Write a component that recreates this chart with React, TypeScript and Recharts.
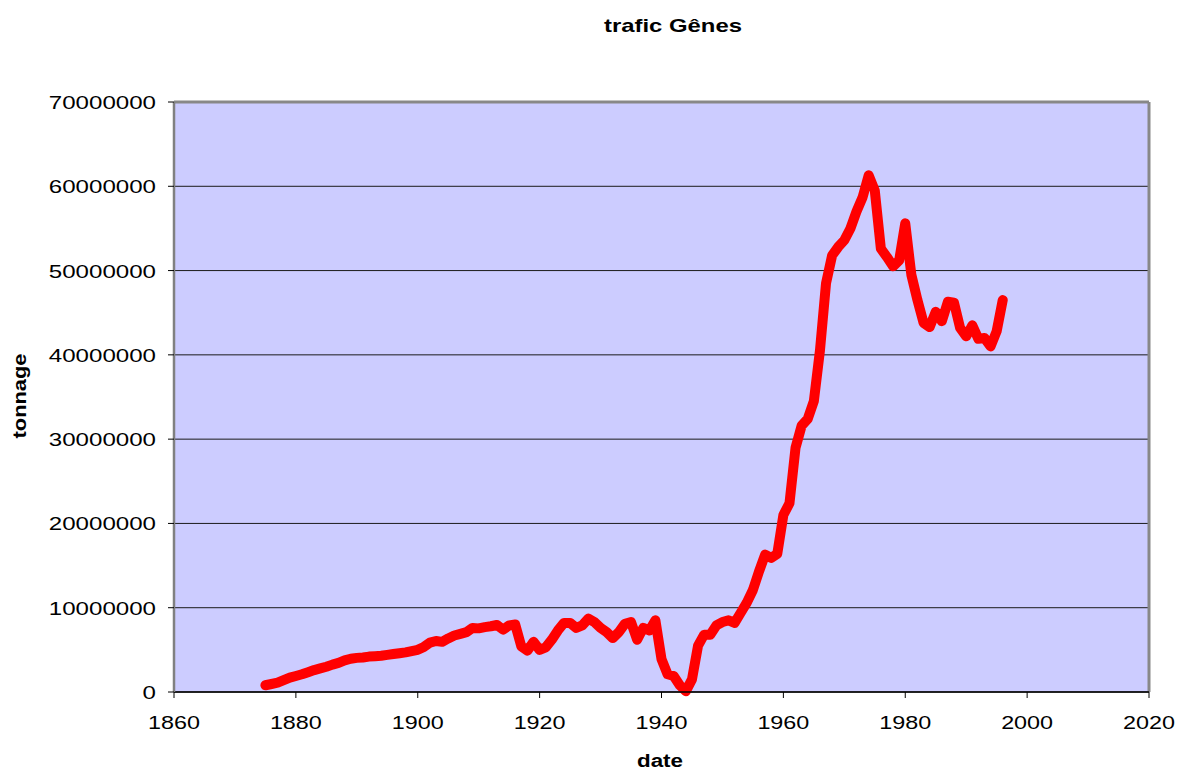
import React from 'react';
import { LineChart, Line, XAxis, YAxis, CartesianGrid, ReferenceLine } from 'recharts';

// years of the series
const years: number[] = [
  1875, 1876, 1877, 1878, 1879, 1880, 1881, 1882, 1883, 1884,
  1885, 1886, 1887, 1888, 1889, 1890, 1891, 1892, 1893, 1894,
  1895, 1896, 1897, 1898, 1899, 1900, 1901, 1902, 1903, 1904,
  1905, 1906, 1907, 1908, 1909, 1910, 1911, 1912, 1913, 1914,
  1915, 1916, 1917, 1918, 1919, 1920, 1921, 1922, 1923, 1924,
  1925, 1926, 1927, 1928, 1929, 1930, 1931, 1932, 1933, 1934,
  1935, 1936, 1937, 1938, 1939, 1940, 1941, 1942, 1943, 1944,
  1945, 1946, 1947, 1948, 1949, 1950, 1951, 1952, 1953, 1954,
  1955, 1956, 1957, 1958, 1959, 1960, 1961, 1962, 1963, 1964,
  1965, 1966, 1967, 1968, 1969, 1970, 1971, 1972, 1973, 1974,
  1975, 1976, 1977, 1978, 1979, 1980, 1981, 1982, 1983, 1984,
  1985, 1986, 1987, 1988, 1989, 1990, 1991, 1992, 1993, 1994,
  1995, 1996,
];

// tonnage (millions of tonnes)
const tonnageM: number[] = [
  0.8, 0.95, 1.1, 1.4, 1.7, 1.9, 2.1, 2.35, 2.6, 2.8,
  3.0, 3.25, 3.45, 3.75, 3.95, 4.05, 4.1, 4.2, 4.25, 4.3,
  4.4, 4.5, 4.6, 4.7, 4.85, 5.0, 5.35, 5.85, 6.05, 5.95,
  6.35, 6.7, 6.9, 7.1, 7.6, 7.55, 7.7, 7.8, 7.95, 7.4,
  7.9, 8.0, 5.4, 4.9, 5.95, 5.0, 5.3, 6.2, 7.3, 8.2,
  8.2, 7.6, 7.9, 8.7, 8.3, 7.6, 7.1, 6.4, 7.1, 8.1,
  8.3, 6.2, 7.6, 7.3, 8.5, 3.9, 2.1, 1.9, 0.8, 0.1,
  1.5, 5.5, 6.8, 6.8, 7.9, 8.3, 8.5, 8.2, 9.4, 10.6,
  12.1, 14.3, 16.3, 15.9, 16.4, 21.0, 22.4, 29.0, 31.6, 32.4,
  34.5, 40.5, 48.5, 51.8, 52.8, 53.6, 55.0, 57.0, 58.7, 61.3,
  59.5, 52.6, 51.6, 50.5, 51.2, 55.6, 49.5, 46.5, 43.8, 43.3,
  45.1, 44.0, 46.3, 46.2, 43.2, 42.2, 43.5, 41.9, 42.0, 41.0,
  42.8, 46.5,
];

const xTicks = [1860, 1880, 1900, 1920, 1940, 1960, 1980, 2000, 2020];
const yTicks = [0, 10000000, 20000000, 30000000, 40000000, 50000000, 60000000, 70000000];

const data = years.map((y, i) => ({ date: y, tonnage: Math.round(tonnageM[i] * 1000000) }));

const font = '"Liberation Sans", Arial, sans-serif';

const YTick = ({ x, y, payload }: any) => {
  const s = String(payload.value);
  return (
    <text x={x} y={y} dy={7} textAnchor="end" fontFamily={font} fontSize={19} fill="#000"
      textLength={s.length * 13.4} lengthAdjust="spacingAndGlyphs">
      {s}
    </text>
  );
};

const XTick = ({ x, y, payload }: any) => {
  const s = String(payload.value);
  return (
    <text x={x} y={y} dy={23} textAnchor="middle" fontFamily={font} fontSize={19} fill="#000"
      textLength={s.length * 13} lengthAdjust="spacingAndGlyphs">
      {s}
    </text>
  );
};

export default function App() {
  return (
    <div style={{ position: 'absolute', left: 0, top: 0, width: 1178, height: 771, background: '#fff' }}>
      <svg width={1178} height={40} style={{ position: 'absolute', left: 0, top: 0 }}>
        <text x={673} y={32} textAnchor="middle" fontFamily={font} fontWeight="bold" fontSize={19}
          textLength={138} lengthAdjust="spacingAndGlyphs">trafic Gênes</text>
      </svg>
      <svg width={40} height={771} style={{ position: 'absolute', left: 0, top: 0 }}>
        <text x={0} y={0} transform="translate(26,396) rotate(-90)" textAnchor="middle" fontFamily={font}
          fontWeight="bold" fontSize={19} textLength={85} lengthAdjust="spacingAndGlyphs">tonnage</text>
      </svg>
      <svg width={1178} height={771} style={{ position: 'absolute', left: 0, top: 0, pointerEvents: 'none' }}>
        <text x={660} y={767} textAnchor="middle" fontFamily={font} fontWeight="bold" fontSize={18}
          textLength={46} lengthAdjust="spacingAndGlyphs">date</text>
      </svg>
      <div style={{ position: 'absolute', left: 0, top: 0 }}>
        <LineChart width={1178} height={771} data={data}
          margin={{ top: 102, right: 29, bottom: 0, left: 0 }}>
          <CartesianGrid fill="#ccccff" stroke="#1a1a1a" vertical={false} />
          <ReferenceLine y={70000000} stroke="#888" strokeWidth={3} />
          <ReferenceLine x={2020} stroke="#888" strokeWidth={3} />
          <XAxis dataKey="date" type="number" domain={[1860, 2020]} ticks={xTicks}
            height={79} tickSize={6} tickMargin={8} tick={<XTick />}
            axisLine={{ stroke: '#000', strokeWidth: 1.5 }} tickLine={{ stroke: '#000' }} />
          <YAxis type="number" domain={[0, 70000000]} ticks={yTicks} width={174}
            tickSize={6} tickMargin={12} tick={<YTick />}
            axisLine={{ stroke: '#808080', strokeWidth: 2.5 }} tickLine={{ stroke: '#000' }} />
          <Line type="linear" dataKey="tonnage" stroke="#ff0000" strokeWidth={10}
            strokeLinejoin="round" strokeLinecap="round" dot={false} isAnimationActive={false} />
        </LineChart>
      </div>
    </div>
  );
}
